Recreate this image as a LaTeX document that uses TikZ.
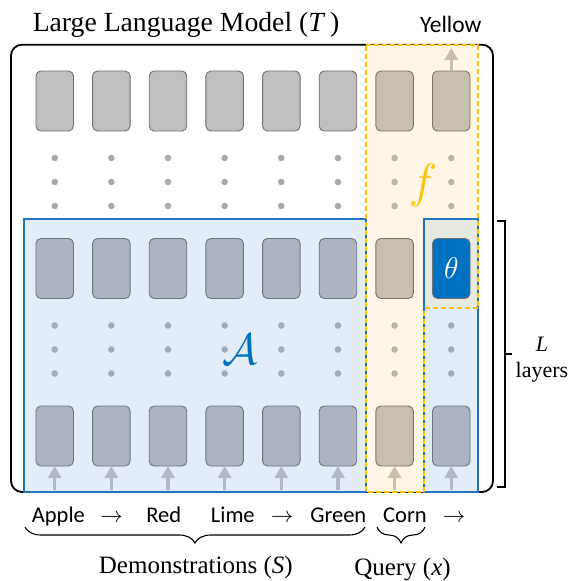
\RequirePackage{fix-cm}
\documentclass[tikz,border=0pt]{standalone}
\usepackage{fontspec}
\setmainfont{Liberation Serif}
\newfontfamily\wordfont{Carlito}
\usepackage{tikz}
\usetikzlibrary{positioning,arrows.meta,decorations.pathreplacing}

\definecolor{grayfill}{HTML}{BFBFBF}
\definecolor{grayline}{HTML}{6F6F6F}
\definecolor{bluefill}{HTML}{ACB5BF}
\definecolor{blueline}{HTML}{6C747D}
\definecolor{beigefill}{HTML}{C6BFAD}
\definecolor{beigeline}{HTML}{7C7466}
\definecolor{thetafill}{HTML}{0070C0}
\definecolor{dotgray}{HTML}{ADA9A9}
\definecolor{dotblue}{HTML}{A3ABB4}
\definecolor{dotbeige}{HTML}{BDB5A4}
\definecolor{feedgray}{HTML}{B3B9C0}
\definecolor{feedbeige}{HTML}{C8C1AE}
\definecolor{blueback}{HTML}{E3EDF7}
\definecolor{yellowback}{HTML}{FFF6E5}
\definecolor{mixback}{HTML}{E6EAE1}
\definecolor{blueedge}{HTML}{2272C3}
\definecolor{fyellow}{HTML}{FFC000}
\definecolor{ablue}{HTML}{0070C0}

\begin{document}
\begin{tikzpicture}[x=1pt, y=-1pt,
    tokbox/.style={rectangle, rounded corners=5pt, minimum width=37.5pt, minimum height=60pt, inner sep=0pt, outer sep=0pt, line width=0.9pt},
    graybox/.style={tokbox, draw=grayline, fill=grayfill},
    bluebox/.style={tokbox, draw=blueline, fill=bluefill},
    beigebox/.style={tokbox, draw=beigeline, fill=beigefill},
    thetabox/.style={tokbox, draw=grayline, fill=thetafill, text=white, font=\fontsize{30}{30}\selectfont},
    word/.style={anchor=base, font=\wordfont\fontsize{22.5}{27}\selectfont},
    feed/.style={line width=3.3pt, -{Triangle[width=13pt,length=12pt]}},
    node distance=107.5pt and 19.15pt,
    ]
    \useasboundingbox (0,0) rectangle (570,581);

    %Regions
    \draw[line width=1.8pt, rounded corners=11pt] (11,44.7) rectangle (493,492);
    \fill[blueback] (24.3,219) rectangle (478,492);
    \fill[yellowback] (366,44.7) -- (478,44.7) -- (478,308.3) -- (424,308.3) -- (424,492) -- (366,492) -- cycle;
    \fill[mixback] (424,219) rectangle (478,308.3);
    \draw[blueedge, line width=2pt] (24.3,219) rectangle (366,492);
    \draw[blueedge, line width=2pt] (424,219) rectangle (478,492);
    \draw[fyellow, line width=2pt, dash pattern=on 5pt off 3pt] (366,44.7) -- (478,44.7) -- (478,308.3) -- (424,308.3) -- (424,492) -- (366,492) -- cycle;

    %Nodes
    \node[graybox]  (t0)                  at (54.7,101) {};
    \node[graybox]  (t1) [right=of t0] {};
    \node[graybox]  (t2) [right=of t1] {};
    \node[graybox]  (t3) [right=of t2] {};
    \node[graybox]  (t4) [right=of t3] {};
    \node[graybox]  (t5) [right=of t4] {};
    \node[beigebox] (t6) [right=of t5] {};
    \node[beigebox] (t7) [right=of t6] {};

    \node[bluebox]  (m0) [below=of t0] {};
    \node[bluebox]  (m1) [below=of t1] {};
    \node[bluebox]  (m2) [below=of t2] {};
    \node[bluebox]  (m3) [below=of t3] {};
    \node[bluebox]  (m4) [below=of t4] {};
    \node[bluebox]  (m5) [below=of t5] {};
    \node[beigebox] (m6) [below=of t6] {};
    \node[thetabox] (m7) [below=of t7] {$\theta$};

    \node[bluebox]  (b0) [below=of m0] {};
    \node[bluebox]  (b1) [below=of m1] {};
    \node[bluebox]  (b2) [below=of m2] {};
    \node[bluebox]  (b3) [below=of m3] {};
    \node[bluebox]  (b4) [below=of m4] {};
    \node[bluebox]  (b5) [below=of m5] {};
    \node[beigebox] (b6) [below=of m6] {};
    \node[bluebox]  (b7) [below=of m7] {};

    %Dots
    \foreach \col/\upper/\lower in {0/dotgray/dotblue, 1/dotgray/dotblue, 2/dotgray/dotblue, 3/dotgray/dotblue, 4/dotgray/dotblue, 5/dotgray/dotblue, 6/dotbeige/dotbeige, 7/dotbeige/dotblue}
        \foreach \gap in {27pt,51pt,75pt} {
            \fill[\upper] ([yshift=-\gap]t\col.south) circle (3.3pt);
            \fill[\lower] ([yshift=-\gap]m\col.south) circle (3.3pt);
        }

    %Lines
    \foreach \col/\shade in {0/feedgray, 1/feedgray, 2/feedgray, 3/feedgray, 4/feedgray, 5/feedgray, 6/feedbeige, 7/feedgray} {
        \coordinate (in\col) at ([yshift=-24pt]b\col.south);
        \draw[feed, \shade] (in\col) -- (b\col);
    }
    \coordinate (out7) at ([yshift=23pt]t7.north);
    \draw[feed, beigefill] (t7) -- (out7);

    %Labels
    \node[font=\fontsize{27.7}{32}\selectfont, anchor=base] (title) at (186,31.7) {Large Language Model (\textit{T}\,)};
    \node[word, font=\wordfont\fontsize{23.5}{28}\selectfont] (outword) at (450.8,32.3) {Yellow};
    \node[text=fyellow, font=\fontsize{48}{48}\selectfont] (flabel) at (423,185) {$f$};
    \node[text=ablue, font=\fontsize{44}{44}\selectfont] (alabel) at (240.5,349) {$\mathcal{A}$};

    \node[word] (apple)  at (58.4,522.7)  {Apple};
    \node[word] (arrowA) at (111.7,522.7) {$\rightarrow$};
    \node[word] (red)    at (163.7,522.7) {Red};
    \node[word] (lime)   at (232.8,522.7) {Lime};
    \node[word] (arrowB) at (282,522.7)   {$\rightarrow$};
    \node[word] (green)  at (338.3,522.7) {Green};
    \node[word] (corn)   at (405,522.7)   {Corn};
    \node[word] (arrowC) at (454,522.7)   {$\rightarrow$};

    %Braces
    \coordinate (demoL)  at (25,527);
    \coordinate (demoR)  at (365,527);
    \coordinate (queryL) at (377,527);
    \coordinate (queryR) at (425,527);
    \draw[decorate, decoration={brace, mirror, amplitude=16pt}, line width=1.1pt] (demoL) -- (demoR);
    \draw[decorate, decoration={brace, mirror, amplitude=16pt}, line width=1.1pt] (queryL) -- (queryR);
    \node[font=\fontsize{25}{30}\selectfont, anchor=base] (demo)  at (195.8,573.3) {Demonstrations (\textit{S})};
    \node[font=\fontsize{25}{30}\selectfont, anchor=base] (query) at (402.5,575)   {Query (\textit{x})};

    \draw[line width=1.5pt] (497,221) -- (505,221) -- (505,487) -- (497,487);
    \draw[line width=1.5pt] (505,354) -- (512,354);
    \node[align=center, font=\fontsize{22}{26}\selectfont] (layers) at (542,360) {\textit{L}\\layers};
\end{tikzpicture}
\end{document}
